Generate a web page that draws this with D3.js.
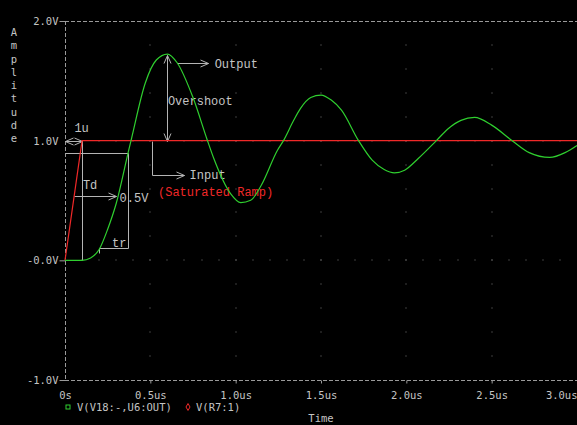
<!DOCTYPE html>
<html>
<head>
<meta charset="utf-8">
<script src="https://cdn.jsdelivr.net/npm/d3@7"></script>
<style>
  html, body { margin: 0; padding: 0; background: #000; }
  svg { display: block; }
</style>
</head>
<body>
<div id="chart"></div>
<script>
var width = 577;
var height = 425;

// output V(V18:-,U6:OUT) (time in us, volts)
var outTime = [0, 0.1, 0.15, 0.2, 0.25, 0.3, 0.37, 0.39, 0.47, 0.535, 0.6, 0.657, 0.75, 0.834, 0.872,
  0.97, 1.03, 1.088, 1.15, 1.245, 1.28, 1.34, 1.38, 1.44, 1.5, 1.56, 1.62, 1.72, 1.8, 1.87, 1.93,
  1.99, 2.07, 2.176, 2.245, 2.32, 2.4, 2.5, 2.62, 2.72, 2.84, 2.93, 3.0];
var outVolt = [0, 0, 0.02, 0.09, 0.26, 0.475, 0.9, 1.02, 1.48, 1.674, 1.724, 1.651, 1.36, 1.004, 0.851,
  0.558, 0.483, 0.502, 0.627, 0.92, 1.0, 1.17, 1.27, 1.361, 1.381, 1.339, 1.255, 1.0, 0.837, 0.759, 0.731,
  0.753, 0.851, 1.0, 1.1, 1.17, 1.194, 1.13, 1.0, 0.9, 0.86, 0.9, 0.96];

// input V(R7:1), saturated ramp
var inTime = [0, 0.1, 3.0];
var inVolt = [0, 1, 1];

var xTicks = [0, 0.5, 1.0, 1.5, 2.0, 2.5, 3.0];
var xTickLabels = ['0s', '0.5us', '1.0us', '1.5us', '2.0us', '2.5us', '3.0us'];
var yTicks = [2, 1, 0, -1];
var yTickLabels = ['2.0V', '1.0V', '-0.0V', '-1.0V'];
var legendLabels = ['V(V18:-,U6:OUT)', 'V(R7:1)'];

var green = '#2fcf2f';
var red = '#f02828';
var grey = '#c4c4c4';
var lineGrey = '#b4b4b4';
var axisFont = 'DejaVu Sans Mono, monospace';
var noteFont = 'Liberation Mono, DejaVu Sans Mono, monospace';

var x = d3.scaleLinear().domain([0, 3]).range([65, 577]);
var y = d3.scaleLinear().domain([-1, 2]).range([380, 21]);

var svg = d3.select('#chart').append('svg')
  .attr('width', width).attr('height', height);

svg.append('rect').attr('width', width).attr('height', height).attr('fill', '#000');

// open arrow head
svg.append('defs').append('marker')
  .attr('id', 'arrow')
  .attr('viewBox', '-1 -5 10 10')
  .attr('refX', 8)
  .attr('refY', 0)
  .attr('markerWidth', 10)
  .attr('markerHeight', 10)
  .attr('markerUnits', 'userSpaceOnUse')
  .attr('orient', 'auto-start-reverse')
  .append('path')
    .attr('d', 'M0,-3.5 L8,0 L0,3.5')
    .attr('fill', 'none')
    .attr('stroke', lineGrey)
    .attr('stroke-width', 1);

// grid dots: columns at major time ticks, rows at major volt levels
var dots = [];
xTicks.slice(1, -1).forEach(function(t) {
  d3.range(-0.8, 1.9, 0.2).forEach(function(v) { dots.push([t, v]); });
});
[0, 1].forEach(function(v) {
  d3.range(0.1, 3.0, 0.1).forEach(function(t) { dots.push([t, v]); });
});
svg.append('g').selectAll('rect')
  .data(dots)
  .enter()
  .append('rect')
  .attr('x', function(d){ return Math.round(x(d[0])) - 0.5; })
  .attr('y', function(d){ return Math.round(y(d[1])) - 0.5; })
  .attr('width', 1).attr('height', 1)
  .attr('fill', '#7a7a7a');

// dashed frame lines
var frame = svg.append('g')
  .attr('stroke', '#9a9a9a')
  .attr('stroke-width', 1)
  .attr('stroke-dasharray', '4,2');
frame.append('line')
  .attr('x1', x(0)).attr('x2', width)
  .attr('y1', y(2) + 0.5).attr('y2', y(2) + 0.5);
frame.append('line')
  .attr('x1', x(0)).attr('x2', width)
  .attr('y1', y(-1) + 0.5).attr('y2', y(-1) + 0.5);
frame.append('line')
  .attr('x1', x(0) + 0.5).attr('x2', x(0) + 0.5)
  .attr('y1', y(2)).attr('y2', y(-1));

// x axis
var xAxis = svg.append('g')
  .attr('transform', 'translate(0,' + (y(-1) + 0.5) + ')')
  .call(d3.axisBottom(x)
    .tickValues(xTicks)
    .tickFormat(function(d, i){ return xTickLabels[i]; })
    .tickSize(3)
    .tickPadding(8));
xAxis.select('.domain').remove();
xAxis.selectAll('line').attr('stroke', '#9a9a9a');
xAxis.selectAll('text')
  .attr('fill', grey)
  .style('font-family', axisFont)
  .style('font-size', '10.5px');
xAxis.selectAll('.tick').filter(function(d){ return d === 3; })
  .select('text').attr('text-anchor', 'end').attr('dx', width - x(3));
xAxis.selectAll('.tick').filter(function(d){ return d === 0; })
  .select('line').remove();

// y axis
var yAxis = svg.append('g')
  .attr('transform', 'translate(' + (x(0) + 0.5) + ',0)')
  .call(d3.axisLeft(y)
    .tickValues(yTicks)
    .tickFormat(function(d, i){ return yTickLabels[i]; })
    .tickSize(6)
    .tickPadding(1));
yAxis.select('.domain').remove();
yAxis.selectAll('line').attr('stroke', '#9a9a9a');
yAxis.selectAll('.tick').filter(function(d){ return d === 1; })
  .select('line').remove();
yAxis.selectAll('text')
  .attr('fill', grey)
  .style('font-family', axisFont)
  .style('font-size', '10.5px');

// vertical "Amplitude" title
svg.append('g').selectAll('text')
  .data('Amplitude'.split(''))
  .enter()
  .append('text')
  .attr('x', 14)
  .attr('y', function(d, i){ return 36 + i * 13.25; })
  .attr('text-anchor', 'middle')
  .attr('fill', grey)
  .style('font-family', axisFont)
  .style('font-size', '10.5px')
  .text(function(d){ return d; });

svg.append('text')
  .attr('x', x(1.5)).attr('y', 422)
  .attr('text-anchor', 'middle')
  .attr('fill', grey)
  .style('font-family', axisFont)
  .style('font-size', '10.5px')
  .text('Time');

// legend
var legendY = 408;
svg.append('rect')
  .attr('x', 66).attr('y', legendY - 3)
  .attr('width', 4).attr('height', 4)
  .attr('fill', 'none').attr('stroke', green);
svg.append('path')
  .attr('d', d3.symbol().type(d3.symbolDiamond).size(14)())
  .attr('transform', 'translate(188,' + (legendY - 1) + ')')
  .attr('fill', 'none').attr('stroke', red);
svg.append('text')
  .attr('x', 77).attr('y', legendY + 3)
  .attr('fill', grey)
  .style('font-family', axisFont).style('font-size', '10.5px')
  .text(legendLabels[0]);
svg.append('text')
  .attr('x', 196).attr('y', legendY + 3)
  .attr('fill', grey)
  .style('font-family', axisFont).style('font-size', '10.5px')
  .text(legendLabels[1]);

// annotation lines, in data units
var notes = svg.append('g')
  .attr('stroke', lineGrey)
  .attr('stroke-width', 1)
  .attr('fill', 'none');

function seg(t1, v1, t2, v2) {
  return notes.append('line')
    .attr('x1', Math.round(x(t1)) + 0.5).attr('y1', Math.round(y(v1)) + 0.5)
    .attr('x2', Math.round(x(t2)) + 0.5).attr('y2', Math.round(y(v2)) + 0.5);
}

// 1u width of the ramp
seg(0, 1, 0.1, 1).attr('marker-start', 'url(#arrow)').attr('marker-end', 'url(#arrow)');
seg(0.1, 1, 0.1, 0);
// 90% / 10% box for rise time
seg(0, 0.9, 0.369, 0.9);
seg(0.369, 0.9, 0.369, 0.1);
seg(0.2, 0.1, 0.369, 0.1);
seg(0.2, 0.1, 0.2, 0.06);
// Td arrow
seg(0.055, 0.535, 0.3, 0.535).attr('marker-end', 'url(#arrow)');
// overshoot
seg(0.595, 1.72, 0.595, 1.0).attr('marker-start', 'url(#arrow)').attr('marker-end', 'url(#arrow)');
// output pointer
seg(0.655, 1.648, 0.84, 1.648).attr('marker-end', 'url(#arrow)');
// input pointer
seg(0.508, 1.0, 0.508, 0.713);
seg(0.508, 0.713, 0.695, 0.713).attr('marker-end', 'url(#arrow)');

var noteText = [
  { t: 0.055, v: 1.07, s: '1u', c: grey },
  { t: 0.105, v: 0.6, s: 'Td', c: grey },
  { t: 0.32, v: 0.49, s: '0.5V', c: grey },
  { t: 0.276, v: 0.115, s: 'tr', c: grey },
  { t: 0.877, v: 1.61, s: 'Output', c: grey },
  { t: 0.603, v: 1.3, s: 'Overshoot', c: grey },
  { t: 0.73, v: 0.68, s: 'Input', c: grey },
  { t: 0.545, v: 0.537, s: '(Saturated Ramp)', c: red }
];
svg.append('g').selectAll('text')
  .data(noteText)
  .enter()
  .append('text')
  .attr('x', function(d){ return x(d.t); })
  .attr('y', function(d){ return y(d.v); })
  .attr('fill', function(d){ return d.c; })
  .style('font-family', noteFont)
  .style('font-size', '12px')
  .text(function(d){ return d.s; });

// traces
var line = d3.line()
  .x(function(d){ return x(d[0]); })
  .y(function(d){ return y(d[1]); });

svg.append('path')
  .datum(inTime.map(function(t, i){ return [t, inVolt[i]]; }))
  .attr('d', line)
  .attr('fill', 'none')
  .attr('stroke', red)
  .attr('stroke-width', 1.2);

svg.append('path')
  .datum(outTime.map(function(t, i){ return [t, outVolt[i]]; }))
  .attr('d', line.curve(d3.curveMonotoneX))
  .attr('fill', 'none')
  .attr('stroke', green)
  .attr('stroke-width', 1.2);
</script>
</body>
</html>
